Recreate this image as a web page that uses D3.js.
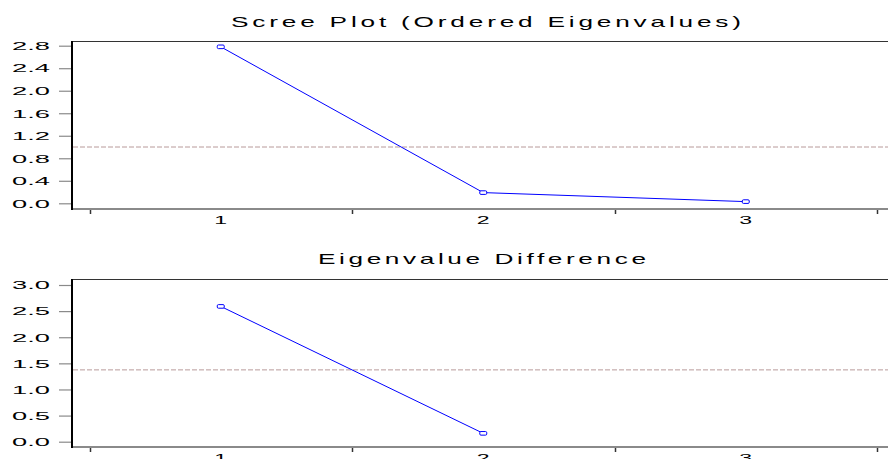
<!DOCTYPE html>
<html><head><meta charset="utf-8">
<script src="https://cdn.jsdelivr.net/npm/d3@7"></script>
<style>body{margin:0;background:#fff}svg{display:block}text{font-family:"Liberation Sans",Arial,sans-serif;fill:#000}</style>
</head><body><svg id="c" width="888" height="459"></svg>
<script>
const categories = [1, 2, 3];
const eigenvalues = [2.78, 0.19, 0.03];
const differences = [2.59, 0.16];
const topTicks = [0.0, 0.4, 0.8, 1.2, 1.6, 2.0, 2.4, 2.8];
const bottomTicks = [0.0, 0.5, 1.0, 1.5, 2.0, 2.5, 3.0];
const titles = ["Scree Plot (Ordered Eigenvalues)", "Eigenvalue Difference"];

const svg = d3.select("#c");
svg.append("rect").attr("width",888).attr("height",459).attr("fill","#fff");
const x = d3.scaleLinear().domain([0.5, 3.5]).range([89.5, 877]);
const xMinor = [0.5, 1.5, 2.5, 3.5];
const SX = 1.75;

function panel(cfg){
  const g = svg.append("g");
  const y = d3.scaleLinear().domain(cfg.ydom).range(cfg.yrange);
  // title
  g.append("text").attr("text-anchor","middle")
    .attr("transform",`translate(${cfg.titleX},${cfg.titleY}) scale(${SX},1)`)
    .attr("font-size",15).attr("textLength",cfg.titleLen/SX).attr("lengthAdjust","spacing")
    .text(cfg.title);
  // y axis ticks
  const ax = d3.axisLeft(y).tickValues(cfg.ticks).tickSize(13).tickPadding(9)
    .tickFormat(d3.format(".1f"));
  const ag = g.append("g").attr("transform","translate(72,0)").call(ax);
  ag.select(".domain").remove();
  ag.selectAll(".tick line").attr("stroke","#8a8a8a").attr("stroke-width",1.2);
  ag.selectAll(".tick text").attr("font-size",10.5).attr("font-family","Liberation Sans, Arial")
    .attr("textLength",38).attr("lengthAdjust","spacingAndGlyphs").attr("fill","#000").attr("dy","0.36em");
  // mean dashed line
  g.append("line").attr("x1",73).attr("x2",888).attr("y1",y(cfg.mean)).attr("y2",y(cfg.mean))
    .attr("stroke","#b89a9a").attr("stroke-width",1).attr("stroke-dasharray","5,2");
  // frame
  g.append("line").attr("x1",72).attr("x2",888).attr("y1",cfg.top+0.5).attr("y2",cfg.top+0.5)
    .attr("stroke","#333").attr("stroke-width",1.2);
  g.append("line").attr("x1",72).attr("x2",888).attr("y1",cfg.bottom).attr("y2",cfg.bottom)
    .attr("stroke","#8a8a8a").attr("stroke-width",2);
  g.append("line").attr("x1",72).attr("x2",72).attr("y1",cfg.top).attr("y2",cfg.bottom+1)
    .attr("stroke","#000").attr("stroke-width",2);
  // x minor ticks
  g.selectAll(".xm").data(xMinor).join("line")
    .attr("x1",d=>Math.round(x(d))+0.5).attr("x2",d=>Math.round(x(d))+0.5)
    .attr("y1",cfg.bottom+1).attr("y2",cfg.bottom+5).attr("stroke","#333").attr("stroke-width",1.5);
  // x labels
  g.selectAll(".xl").data(categories).join("text")
    .attr("text-anchor","middle").attr("font-size",10.5)
    .attr("transform",d=>`translate(${x(d)},${cfg.bottom+14.8}) scale(2.2,1)`)
    .text(d=>d);
  // line
  const pts = cfg.values.map((v,i)=>[categories[i], v]);
  g.append("path").datum(pts)
    .attr("d", d3.line().x(d=>x(d[0])).y(d=>y(d[1])))
    .attr("fill","none").attr("stroke","#0000ff").attr("stroke-width",1);
  g.selectAll(".mk").data(pts).join("rect")
    .attr("x",d=>x(d[0])-3.5).attr("y",d=>y(d[1])-1.8).attr("width",7).attr("height",3.6)
    .attr("rx",1.2).attr("fill","#fff").attr("stroke","#0000ff").attr("stroke-width",1);
}

panel({title:titles[0], titleX:486, titleY:27, titleLen:510, ydom:[0,2.8], yrange:[203.3,45.7], ticks:topTicks,
  mean:d3.mean(eigenvalues), top:41, bottom:209, values:eigenvalues});
panel({title:titles[1], titleX:482, titleY:264, titleLen:328, ydom:[0,3], yrange:[441.7,285], ticks:bottomTicks,
  mean:d3.mean(differences), top:279, bottom:447, values:differences});
</script></body></html>
